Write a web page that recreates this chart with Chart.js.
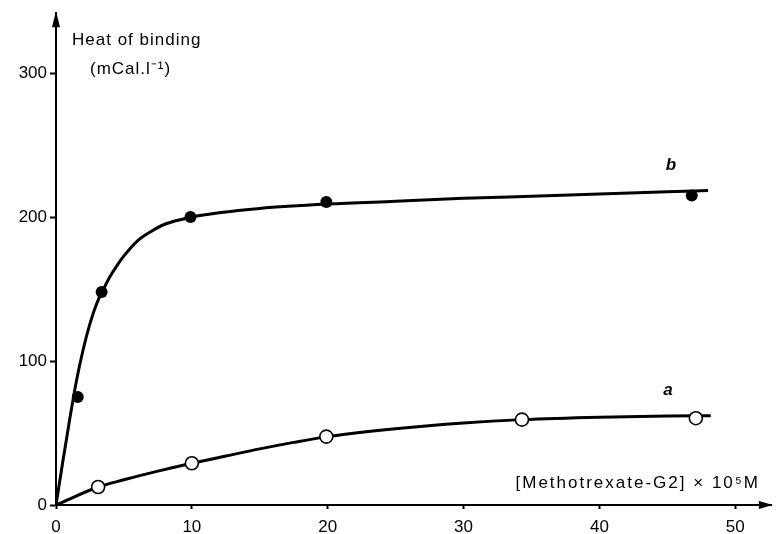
<!DOCTYPE html>
<html>
<head>
<meta charset="utf-8">
<script src="https://cdn.jsdelivr.net/npm/chart.js@4.4.1/dist/chart.umd.min.js"></script>
<style>
  html, body { margin: 0; padding: 0; background: #fff; }
</style>
</head>
<body>
<canvas id="heatChart" width="780" height="534"></canvas>
<script>
// measured points, curve b (filled) and curve a (open)
const bPointsX = [1.6, 3.36, 9.9, 19.9, 46.8];
const bPointsY = [75, 148, 200, 210.5, 215];
const aPointsX = [3.1, 10, 19.9, 34.3, 47.1];
const aPointsY = [12.5, 29, 47.5, 59.3, 60.3];

// fitted curves
const bCurveX = [0, 0.5, 1, 1.5, 2, 2.5, 3, 3.5, 4, 4.5, 5, 6, 7, 8, 10, 12, 15, 20, 25, 30, 35, 40, 45, 48];
const bCurveY = [0, 30, 59, 86, 108, 126, 140, 150, 159, 166.5, 173, 183.5, 190, 195, 200, 203, 206, 209, 211, 213, 214.5, 216, 217.5, 218.5];
const aCurveX = [0, 3.1, 5, 7.5, 10, 12.5, 15, 17.5, 20, 25, 30, 34.3, 40, 45, 48.2];
const aCurveY = [0, 12.5, 17.5, 23.5, 29, 34, 39, 43.5, 47.5, 53, 57, 59.3, 61, 61.8, 62];

const xTicks = [0, 10, 20, 30, 40, 50];
const yTicks = [0, 100, 200, 300];

const toXY = (xs, ys) => xs.map((x, i) => ({ x: x, y: ys[i] }));

const FONT = "'Liberation Sans', Arial, sans-serif";
const INK = '#000';

// axis arrows and all the free text of the figure
const decorations = {
  id: 'decorations',
  afterDraw(chart) {
    const ctx = chart.ctx;
    const a = chart.chartArea;
    ctx.save();
    ctx.fillStyle = INK;

    // arrow at top of the y axis
    ctx.beginPath();
    ctx.moveTo(a.left, a.top - 2);
    ctx.lineTo(a.left - 4, a.top + 14);
    ctx.lineTo(a.left + 4, a.top + 14);
    ctx.closePath();
    ctx.fill();

    // arrow at right end of the x axis
    ctx.beginPath();
    ctx.moveTo(a.right + 1, a.bottom);
    ctx.lineTo(a.right - 13, a.bottom - 4);
    ctx.lineTo(a.right - 13, a.bottom + 4);
    ctx.closePath();
    ctx.fill();

    ctx.textBaseline = 'middle';
    ctx.textAlign = 'left';
    ctx.letterSpacing = '1px';
    ctx.font = '17px ' + FONT;
    ctx.fillText('Heat of binding', 72, 40);
    ctx.fillText('(mCal.l\u207B\u00B9)', 90, 69);

    ctx.textAlign = 'right';
    ctx.letterSpacing = '2px';
    ctx.fillText('[Methotrexate-G2] \u00D7 10\u2075M', 760, 483);

    ctx.letterSpacing = '0px';
    ctx.textAlign = 'center';
    ctx.font = 'italic bold 17px ' + FONT;
    ctx.fillText('b', 671, 165);
    ctx.fillText('a', 668, 390);
    ctx.restore();
  }
};

const ctx = document.getElementById('heatChart').getContext('2d');
new Chart(ctx, {
  type: 'scatter',
  data: {
    datasets: [
      {
        label: 'b points',
        data: toXY(bPointsX, bPointsY),
        pointRadius: 6,
        pointBackgroundColor: INK,
        pointBorderColor: INK,
        borderWidth: 0,
        order: 0
      },
      {
        label: 'a points',
        data: toXY(aPointsX, aPointsY),
        pointRadius: 6.5,
        pointBackgroundColor: '#fff',
        pointBorderColor: INK,
        pointBorderWidth: 1.6,
        order: 0
      },
      {
        label: 'b curve',
        data: toXY(bCurveX, bCurveY),
        showLine: true,
        pointRadius: 0,
        borderColor: INK,
        borderWidth: 3,
        cubicInterpolationMode: 'monotone',
        order: 1
      },
      {
        label: 'a curve',
        data: toXY(aCurveX, aCurveY),
        showLine: true,
        pointRadius: 0,
        borderColor: INK,
        borderWidth: 3,
        cubicInterpolationMode: 'monotone',
        order: 1
      }
    ]
  },
  options: {
    responsive: false,
    animation: false,
    layout: { padding: { top: 12, right: 2, left: 0, bottom: 0 } },
    plugins: {
      legend: { display: false },
      tooltip: { enabled: false }
    },
    scales: {
      x: {
        type: 'linear',
        min: 0,
        max: 52.7,
        afterBuildTicks: (scale) => { scale.ticks = xTicks.map(v => ({ value: v })); },
        afterFit: (scale) => { scale.height = 29; },
        border: { display: true, color: INK, width: 2 },
        grid: { drawOnChartArea: false, color: INK, tickLength: 4, tickWidth: 2 },
        ticks: { color: INK, font: { family: FONT, size: 17 }, padding: 8, maxRotation: 0 }
      },
      y: {
        type: 'linear',
        min: 0,
        max: 341.6,
        afterBuildTicks: (scale) => { scale.ticks = yTicks.map(v => ({ value: v })); },
        afterFit: (scale) => { scale.width = 56; },
        border: { display: true, color: INK, width: 2 },
        grid: { drawOnChartArea: false, color: INK, tickLength: 6, tickWidth: 2 },
        ticks: { color: INK, font: { family: FONT, size: 17 }, padding: 3 }
      }
    }
  },
  plugins: [decorations]
});
</script>
</body>
</html>
